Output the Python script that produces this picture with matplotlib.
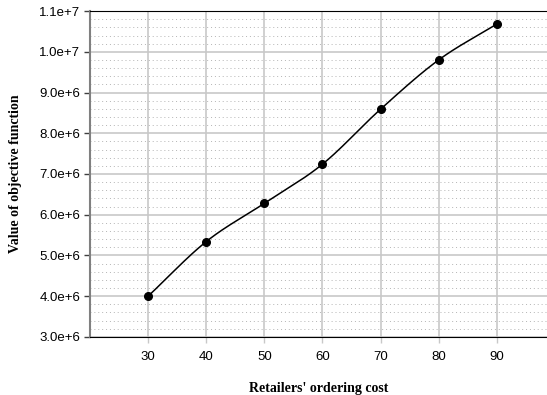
import matplotlib.pyplot as plt
import numpy as np
from matplotlib.ticker import MultipleLocator, FuncFormatter

# ordering cost vs objective value
cost = [30, 40, 50, 60, 70, 80, 90]
obj = [4.0e6, 5.34e6, 6.28e6, 7.24e6, 8.59e6, 9.80e6, 10.68e6]


def smooth(x, y, n=30):
    # catmull-rom curve through the points
    x = np.asarray(x, float)
    y = np.asarray(y, float)
    px = np.concatenate([[2 * x[0] - x[1]], x, [2 * x[-1] - x[-2]]])
    py = np.concatenate([[2 * y[0] - y[1]], y, [2 * y[-1] - y[-2]]])
    xs, ys = [], []
    for i in range(1, len(px) - 2):
        t = np.linspace(0, 1, n)
        for p, out in ((px, xs), (py, ys)):
            p0, p1, p2, p3 = p[i - 1], p[i], p[i + 1], p[i + 2]
            out.append(0.5 * (2 * p1 + (-p0 + p2) * t
                              + (2 * p0 - 5 * p1 + 4 * p2 - p3) * t ** 2
                              + (-p0 + 3 * p1 - 3 * p2 + p3) * t ** 3))
    return np.concatenate(xs), np.concatenate(ys)


def sci(v, pos):
    m, e = ('%.1e' % v).split('e')
    return '%se%+d' % (m, int(e))


fig = plt.figure(figsize=(5.47, 3.95), dpi=100)
ax = fig.add_axes([0.1645, 0.147, 0.835, 0.825])

sx, sy = smooth(cost, obj)
ax.plot(sx, sy, color='black', lw=1.1, zorder=3)
ax.plot(cost, obj, 'o', color='black', ms=5.5, zorder=4)

ax.set_xlim(20, 98.6)
ax.set_ylim(3.0e6, 1.1e7)
ax.set_xticks(cost)
ax.yaxis.set_major_locator(MultipleLocator(1e6))
ax.yaxis.set_minor_locator(MultipleLocator(2e5))
ax.yaxis.set_major_formatter(FuncFormatter(sci))

ax.grid(True, which='major', color='#c8c8c8', lw=1.2)
ax.grid(True, which='minor', axis='y', color='#b4b4b4', lw=0.7, linestyle=(0, (1, 3)))
ax.set_axisbelow(True)

for lab in ax.get_xticklabels() + ax.get_yticklabels():
    lab.set_family('Liberation Sans')
    lab.set_fontsize(9.5)
ax.tick_params(axis='y', which='major', length=4, width=1, color='#404040', pad=3)
ax.tick_params(axis='y', which='minor', length=0)
ax.tick_params(axis='x', length=4, width=1, color='#c8c8c8', pad=6)

ax.spines['right'].set_visible(False)
ax.spines['left'].set_color('#808080')
ax.spines['left'].set_linewidth(1.5)
ax.spines['top'].set_color('black')
ax.spines['bottom'].set_color('black')

ax.set_xlabel("Retailers' ordering cost", family='Liberation Serif', fontweight='bold',
              fontsize=10, labelpad=14)
ax.set_ylabel('Value of objective function', family='Liberation Serif', fontweight='bold',
              fontsize=10, labelpad=12)

fig.savefig('out.png', dpi=100)
